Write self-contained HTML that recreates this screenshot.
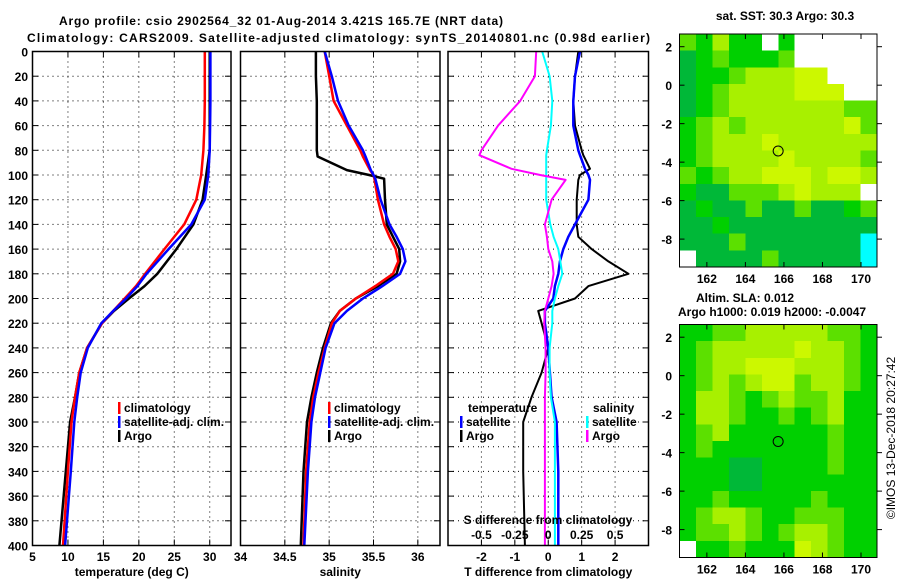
<!DOCTYPE html>
<html><head><meta charset="utf-8">
<style>
html,body{margin:0;padding:0;background:#fff;}
svg{display:block;font-family:"Liberation Sans",sans-serif;font-weight:bold;}
text{fill:#000;font-size:12px;}
</style></head>
<body>
<svg id="chart" width="900" height="580" viewBox="0 0 900 580" xmlns="http://www.w3.org/2000/svg">
<text x="59" y="25" font-size="13" textLength="444">Argo profile: csio 2902564_32 01-Aug-2014 3.421S 165.7E (NRT data)</text>
<text x="27" y="42" font-size="13" textLength="623">Climatology: CARS2009. Satellite-adjusted climatology: synTS_20140801.nc (0.98d earlier)</text>
<g id="plots"></g>
</svg>
<script>
// ---- data ----
const depthT = [0,20,40,60,80,100,120,140,160,180,190,200,210,220,240,260,280,300,340,400];
const tempClim = [29.3,29.3,29.3,29.25,29.1,28.8,28.1,26.4,23.6,20.9,19.6,18.0,16.4,14.8,12.7,11.6,11.0,10.5,10.0,9.3];
const tempSat  = [30.1,30.1,30.1,30.05,30.0,29.8,29.3,27.4,24.2,21.1,19.8,18.2,16.4,14.7,12.8,11.8,11.3,10.9,10.4,9.6];
const tempArgo = [30.0,30.0,30.0,30.0,30.0,29.5,29.0,27.7,25.3,22.6,20.8,18.6,16.5,14.8,12.7,11.6,11.0,10.3,9.7,8.8];
const depthS = [0,20,40,60,80,85,96,100,103,120,140,150,160,170,180,190,200,210,220,240,260,280,300,340,400];
const salClim = [34.95,35.0,35.05,35.2,35.35,35.38,35.46,35.5,35.51,35.55,35.62,35.68,35.75,35.78,35.72,35.52,35.3,35.12,35.03,34.95,34.88,34.82,34.78,34.74,34.71];
const salSat  = [34.95,35.03,35.1,35.22,35.38,35.41,35.47,35.5,35.52,35.58,35.68,35.76,35.83,35.86,35.8,35.6,35.38,35.2,35.06,34.96,34.9,34.84,34.8,34.76,34.72];
const salArgo = [34.85,34.85,34.86,34.86,34.86,34.87,35.2,35.45,35.62,35.63,35.65,35.72,35.79,35.8,35.76,35.55,35.3,35.12,35.02,34.93,34.86,34.8,34.75,34.71,34.68];
const depthD = [0,20,40,60,80,84,95,100,104,120,140,150,160,170,180,190,200,210,220,240,260,280,300,340,400];
const dTsat  = [0.95,0.8,0.75,0.75,0.9,0.95,1.1,1.2,1.25,1.2,0.8,0.6,0.45,0.35,0.3,0.2,0.15,-0.1,-0.1,0.0,0.05,0.1,0.25,0.3,0.3];
const dTargo = [0.9,0.8,0.75,0.8,1.0,1.05,1.25,0.95,0.9,0.85,0.85,0.9,1.3,1.8,2.4,1.2,0.8,-0.3,-0.2,0.0,-0.2,-0.5,-0.75,-0.75,-0.7];
const dSsat  = [-0.045,0.01,0.03,0.02,-0.01,-0.015,-0.015,-0.015,-0.015,-0.015,0.015,0.04,0.075,0.09,0.105,0.075,0.05,0.03,0.03,0.01,0.01,0.02,0.05,0.05,0.05];
const dSargo = [-0.09,-0.1,-0.21,-0.375,-0.5,-0.515,-0.275,-0.06,0.13,0.025,-0.025,-0.01,0.0,0.03,0.04,0.025,0.0,-0.025,-0.03,-0.02,-0.02,-0.025,-0.025,-0.025,-0.025];
const depthTicks = [0,20,40,60,80,100,120,140,160,180,200,220,240,260,280,300,320,340,360,380,400];
const tempTicks = [5,10,15,20,25,30];
const salTicks = [34,34.5,35,35.5,36];
const tdiffTicks = [-2,-1,0,1,2];
const sdiffTicks = [-0.5,-0.25,0,0.25,0.5];
const lonTicks = [162,164,166,168,170];
const latTicks = [2,0,-2,-4,-6,-8];
const sstGrid = ["lGyGGwGwwwww","gGlGGGlwwwww","gGGlyyyYYwww","gGlyyyyYYYww","gGlyyyyyyyll","GlylyyyyyyYl","GlyyyYyyyyyy","GlyyyyYyyyyl","lGlyyYYYyYYy","GgglllyYyyyw","gGgglgglggGl","ggGggggggggg","ggglgggggggc","wgggglgggggc"];
const slaGrid = ["GGllyyyyyllG","GlyyyyyYyylG","GlyyYYYyyylG","GlylyYYlyylG","GyylGlyllyGG","GyylGGlGlyGG","GlyGGGGGGlGG","GlGGGGGGGlGG","GGGggGGGGlGG","GGGggGGGGGGG","GGlGGGGGlGGG","GlyylGGlllGG","GllylGlyylGG","wGGlGGGYylGG"];
const argoLon = 165.7, argoLat = -3.42;

// ---- drawing ----
const NS="http://www.w3.org/2000/svg";
const root=document.getElementById('plots');
function el(tag,attrs,parent){const e=document.createElementNS(NS,tag);for(const k in attrs)e.setAttribute(k,attrs[k]);(parent||root).appendChild(e);return e;}
function txt(x,y,s,anchor,parent,size){const t=el('text',{x:x,y:y,'text-anchor':anchor||'start'},parent);if(size)t.setAttribute('font-size',size);t.textContent=s;return t;}
const Y0=51.5,Y1=545.5;
const yD=d=>Y0+(Y1-Y0)*d/400;
function lin(a,b,p,q){return v=>p+(v-a)*(q-p)/(b-a);}

function panel(name,x0,x1,fx,xt,xlab,showY){
  const g=el('g',{});
  
  
  depthTicks.forEach(d=>{if(d>0&&d<400){const l=el('line',{x1:x0,x2:x1,y1:yD(d),y2:yD(d),stroke:'#000','stroke-width':1,'stroke-dasharray':'1,4'},g);}
    el('line',{x1:x0,x2:x0+6,y1:yD(d),y2:yD(d),stroke:'#000'},g);
    el('line',{x1:x1-6,x2:x1,y1:yD(d),y2:yD(d),stroke:'#000'},g);
    if(showY){const lb=txt(28,yD(d)+5,String(d),'end',g,13);}
  });
  xt.forEach(v=>{const x=fx(v);
    if(x>x0+1&&x<x1-1){el('line',{x1:x,x2:x,y1:Y0,y2:Y1,stroke:'#000','stroke-dasharray':'1,4'},g);}
    el('line',{x1:x,x2:x,y1:Y1-6,y2:Y1,stroke:'#000'},g);el('line',{x1:x,x2:x,y1:Y0,y2:Y0+6,stroke:'#000'},g);
    const lb=txt(x,561,String(v),'middle',g,13);
  });
  const t=txt((x0+x1)/2,576,xlab,'middle',g,12);
  
  return g;
}
function series(g,name,vals,depths,fx,color,w){
  const pts=vals.map((v,i)=>fx(v).toFixed(1)+','+yD(depths[i]).toFixed(1)).join(' ');
  const p=el('polyline',{points:pts,fill:'none',stroke:color,'stroke-width':w,'stroke-linejoin':'round'},g);
  
}
function frame(g,x0,x1){const r=el('rect',{x:x0,y:Y0,width:x1-x0,height:Y1-Y0,fill:'none',stroke:'#000','stroke-width':1.5},g);}
function legend(g,x,y,items){items.forEach((it,i)=>{const yy=y+i*14;
  const b=el('rect',{x:x,y:yy-9,width:2.5,height:12,fill:it[1]},g);
  const t=txt(x+6,yy+1,it[0],'start',g,12);});}

// Panel 1: temperature
const fT=lin(5,33,32.5,231);
const g1=panel('temperature-panel',32.5,231,fT,tempTicks,'temperature (deg C)',true);
series(g1,'temp-argo',tempArgo,depthT,fT,'#000',2.5);
series(g1,'temp-climatology',tempClim,depthT,fT,'#f00',2.5);
series(g1,'temp-satellite-adj',tempSat,depthT,fT,'#00f',2.5);
frame(g1,32.5,231);
legend(g1,118,411,[['climatology','#f00'],['satellite-adj. clim.','#00f'],['Argo','#000']]);

// Panel 2: salinity
const fS=lin(34,36.25,240.5,440);
const g2=panel('salinity-panel',240.5,440,fS,salTicks,'salinity',false);
series(g2,'sal-argo',salArgo,depthS,fS,'#000',2.5);
series(g2,'sal-climatology',salClim,depthS,fS,'#f00',2.5);
series(g2,'sal-satellite-adj',salSat,depthS,fS,'#00f',2.5);
frame(g2,240.5,440);
legend(g2,328,411,[['climatology','#f00'],['satellite-adj. clim.','#00f'],['Argo','#000']]);

// Panel 3: differences
const fD=lin(-3,3,448,648.5);
const fSD=lin(-0.75,0.75,448,648.5);
const g3=panel('difference-panel',448,648.5,fD,tdiffTicks,'T difference from climatology',false);
series(g3,'dT-argo',dTargo,depthD,fD,'#000',2);
series(g3,'dT-satellite',dTsat,depthD,fD,'#00f',2.5);
series(g3,'dS-satellite',dSsat,depthD,fSD,'#0ff',2);
series(g3,'dS-argo',dSargo,depthD,fSD,'#f0f',2);
frame(g3,448,648.5);
legend(g3,460,425,[['satellite','#00f'],['Argo','#000']]);
{const t=txt(468,412,'temperature','start',g3,12);}
legend(g3,586,425,[['satellite','#0ff'],['Argo','#f0f']]);
{const t=txt(593,412,'salinity','start',g3,12);}
{const t=txt(548,524,'S difference from climatology','middle',g3,12);}
sdiffTicks.forEach(v=>{const t=txt(fSD(v),539,String(v),'middle',g3,12);});

// Maps
const pal={g:'#00b838',G:'#00d000',l:'#5ce000',y:'#a8f000',Y:'#ccf800',c:'#00ffff',w:'#ffffff'};
function map(name,grid,x0,x1,yt,yb){
  const g=el('g',{});
  
  const rows=grid.length,cols=grid[0].length,cw=(x1-x0)/cols,ch=(yb-yt)/rows;
  grid.forEach((row,r)=>{for(let c=0;c<cols;c++){
    const cell=el('rect',{x:(x0+c*cw).toFixed(2),y:(yt+r*ch).toFixed(2),width:(cw+0.6).toFixed(2),height:(ch+0.6).toFixed(2),fill:pal[row[c]],'shape-rendering':'crispEdges'},g);
    }});
  const fx=lin(160.58,170.83,x0,x1), fy=lin(2.66,-9.45,yt,yb);
  lonTicks.forEach(v=>{const x=fx(v);el('line',{x1:x,x2:x,y1:yt,y2:yt+5,stroke:'#000'},g);el('line',{x1:x,x2:x,y1:yb-5,y2:yb,stroke:'#000'},g);
    const t=txt(x,yb+16,String(v),'middle',g,13);});
  latTicks.forEach(v=>{const y=fy(v);el('line',{x1:x0,x2:x0+5,y1:y,y2:y,stroke:'#000'},g);el('line',{x1:x1,x2:x1+5,y1:y,y2:y,stroke:'#000'},g);
    const t=txt(672,y+5,String(v),'end',g,13);});
  const c=el('circle',{cx:fx(argoLon),cy:fy(argoLat),r:5,fill:'none',stroke:'#000','stroke-width':1},g);
  
  const f=el('rect',{x:x0,y:yt,width:x1-x0,height:yb-yt,fill:'none',stroke:'#000','stroke-width':1},g);
  
}
map('sst-map',sstGrid,679.5,877,34,267);
map('sla-map',slaGrid,679.5,877,324.5,557.5);
{const t=txt(785,20,'sat. SST: 30.3 Argo: 30.3','middle',null,12);}
{const t=txt(696,302,'Altim. SLA: 0.012','start',null,12);}
{const t=txt(678,316,'Argo h1000: 0.019 h2000: -0.0047','start',null,12);}
{const t=txt(0,0,'©IMOS 13-Dec-2018 20:27:42','middle',null,12);t.setAttribute('transform','translate(895,438) rotate(-90)');t.setAttribute('font-weight','normal');}
</script>
</body></html>
